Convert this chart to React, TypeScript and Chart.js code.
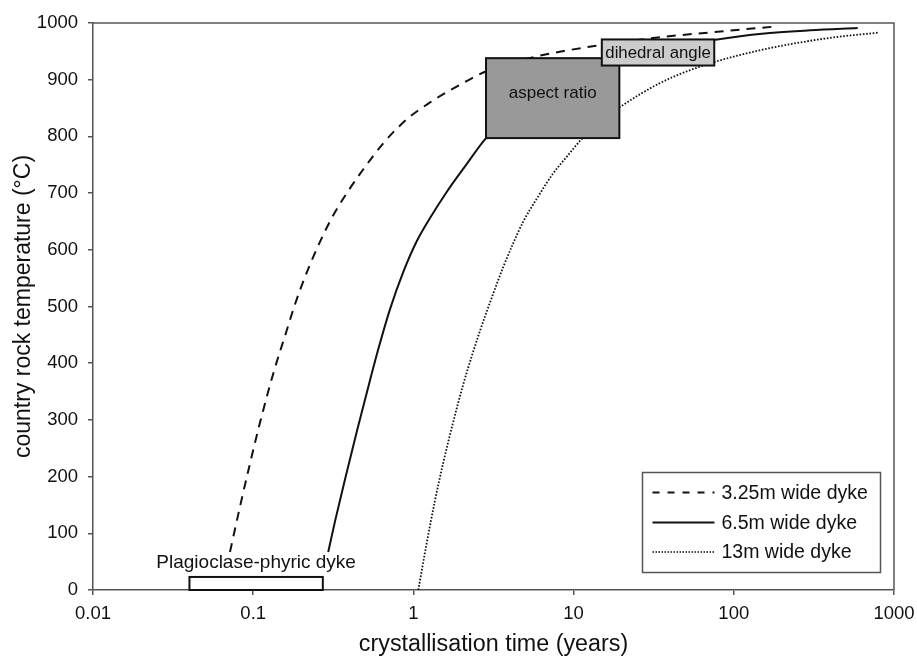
import React, { useEffect, useRef } from 'react';
import { Chart, registerables } from 'chart.js';

Chart.register(...registerables);

// ---------------- data ----------------
const xTickValues = [0.01, 0.1, 1, 10, 100, 1000];
const xTickLabels = ['0.01', '0.1', '1', '10', '100', '1000'];
const yTickValues = [0, 100, 200, 300, 400, 500, 600, 700, 800, 900, 1000];
const yTickLabels = ['0', '100', '200', '300', '400', '500', '600', '700', '800', '900', '1000'];

const seriesLabels = ['3.25m wide dyke', '6.5m wide dyke', '13m wide dyke'];

const dyke325Time = [0.0716, 0.0827, 0.0955, 0.11, 0.1335, 0.162, 0.1824, 0.216, 0.261, 0.316, 0.384, 0.487, 0.649, 0.908, 1.256, 1.95, 2.8, 5.1, 14.6, 38, 90, 185];
const dyke325Temp = [67, 147, 223, 294, 382, 458, 504, 560, 614, 661, 700, 742, 788, 830, 859, 891, 914, 937, 961, 976, 986, 994];

const dyke65Time = [0.294, 0.324, 0.374, 0.443, 0.536, 0.604, 0.714, 0.865, 1.049, 1.27, 1.614, 2.15, 2.84, 5, 10, 20, 40, 75, 150, 300, 593];
const dyke65Temp = [67, 121, 195, 279, 370, 425, 495, 561, 615, 656, 702, 751, 797, 860, 905, 935, 957, 970, 981, 987, 991];

const dyke13Time = [1.073, 1.211, 1.364, 1.537, 1.775, 2.049, 2.311, 2.604, 3.153, 3.641, 4.204, 4.853, 5.886, 7.468, 9.055, 11.12, 15, 19.3, 34.6, 61.5, 146, 380, 798];
const dyke13Temp = [0, 83, 158, 225, 297, 363, 412, 457, 523, 570, 612, 650, 690, 735, 764, 794, 828, 851, 894, 923, 952, 973, 983];

const boxLabels = ['Plagioclase-phyric dyke', 'aspect ratio', 'dihedral angle'];
const boxTimeMin = [0.04, 2.84, 15];
const boxTimeMax = [0.272, 19.3, 75.5];
const boxTempMin = [0, 797, 925];
const boxTempMax = [23, 938, 971];

// ---------------- styles ----------------
const FONT = "'Liberation Sans', Arial, Helvetica, sans-serif";
const AXIS_COLOR = '#555555';
const TEXT_COLOR = '#111111';
const lineDashes = [[9, 7], [], [1.6, 1.7]];
const lineWidths = [2, 2, 1.8];
const legendDashes = [[7, 8], [], [1.5, 1.5]];
const boxFills = ['#ffffff', '#999999', '#cccccc'];
const boxFontSizes = [19, 17, 16.8];

const toPoints = (xs: number[], ys: number[]) => xs.map((x, i) => ({ x, y: ys[i] }));

const frameAndBoxes = {
  id: 'frameAndBoxes',
  beforeDatasetsDraw(chart: any) {
    const { ctx, chartArea } = chart;
    ctx.save();
    ctx.strokeStyle = AXIS_COLOR;
    ctx.lineWidth = 1.5;
    ctx.beginPath();
    ctx.moveTo(chartArea.left, chartArea.top);
    ctx.lineTo(chartArea.right, chartArea.top);
    ctx.lineTo(chartArea.right, chartArea.bottom);
    ctx.stroke();
    ctx.restore();
  },
  afterDatasetsDraw(chart: any) {
    const { ctx } = chart;
    const xs = chart.scales.x;
    const ys = chart.scales.y;
    ctx.save();
    boxLabels.forEach((label, i) => {
      const l = xs.getPixelForValue(boxTimeMin[i]);
      const r = xs.getPixelForValue(boxTimeMax[i]);
      const t = ys.getPixelForValue(boxTempMax[i]);
      const b = ys.getPixelForValue(boxTempMin[i]);
      ctx.fillStyle = boxFills[i];
      ctx.fillRect(l, t, r - l, b - t);
      ctx.strokeStyle = '#111';
      ctx.lineWidth = 2;
      ctx.setLineDash([]);
      ctx.strokeRect(l, t, r - l, b - t);
      ctx.fillStyle = TEXT_COLOR;
      ctx.font = `${boxFontSizes[i]}px ${FONT}`;
      ctx.textAlign = 'center';
      ctx.textBaseline = 'middle';
      const cx = (l + r) / 2;
      if (i === 0) {
        ctx.fillText(label, cx, t - 14);
      } else if (i === 1) {
        ctx.fillText(label, cx, (t + b) / 2 - 5);
      } else {
        ctx.fillText(label, cx, (t + b) / 2 + 0.5);
      }
    });
    ctx.restore();
  },
  afterDraw(chart: any) {
    const { ctx, chartArea } = chart;
    const w = 238;
    const h = 100;
    const right = chartArea.right - 13.5;
    const bottom = chartArea.bottom - 17.5;
    const left = right - w;
    const top = bottom - h;
    ctx.save();
    ctx.fillStyle = '#ffffff';
    ctx.fillRect(left, top, w, h);
    ctx.strokeStyle = AXIS_COLOR;
    ctx.lineWidth = 1.5;
    ctx.strokeRect(left, top, w, h);
    const rows = [20, 50, 79.5];
    seriesLabels.forEach((label, i) => {
      const yy = top + rows[i];
      ctx.strokeStyle = '#111';
      ctx.lineWidth = i === 2 ? 1.6 : 2;
      ctx.setLineDash(legendDashes[i]);
      ctx.beginPath();
      ctx.moveTo(left + 10, yy);
      ctx.lineTo(left + 72, yy);
      ctx.stroke();
      ctx.setLineDash([]);
      ctx.fillStyle = TEXT_COLOR;
      ctx.font = `19.5px ${FONT}`;
      ctx.textAlign = 'left';
      ctx.textBaseline = 'middle';
      ctx.fillText(label, left + 79, yy + 1);
    });
    ctx.restore();
  },
};

export default function App() {
  const canvasRef = useRef<HTMLCanvasElement | null>(null);

  useEffect(() => {
    document.body.style.margin = '0';
    const canvas = canvasRef.current;
    if (!canvas) return;
    Chart.defaults.font.family = FONT;
    const series = [
      toPoints(dyke325Time, dyke325Temp),
      toPoints(dyke65Time, dyke65Temp),
      toPoints(dyke13Time, dyke13Temp),
    ];
    const chart = new Chart(canvas, {
      type: 'line',
      data: {
        datasets: series.map((data, i) => ({
          label: seriesLabels[i],
          data,
          borderColor: '#111',
          borderWidth: lineWidths[i],
          borderDash: lineDashes[i],
          pointRadius: 0,
          fill: false,
          cubicInterpolationMode: 'monotone' as const,
        })),
      },
      options: {
        responsive: false,
        animation: false,
        devicePixelRatio: 1,
        layout: { padding: { left: 0, top: 23, right: 23, bottom: 0 } },
        plugins: {
          legend: { display: false },
          tooltip: { enabled: false },
        },
        scales: {
          x: {
            type: 'logarithmic',
            min: 0.01,
            max: 1000,
            afterBuildTicks: (s: any) => {
              s.ticks = xTickValues.map((v) => ({ value: v }));
            },
            afterFit: (s: any) => {
              s.height = 67;
              s.paddingLeft = 0;
              s.paddingRight = 0;
            },
            ticks: {
              autoSkip: false,
              maxRotation: 0,
              padding: 8,
              color: TEXT_COLOR,
              font: { size: 18.5 },
              callback: (_v: any, i: number) => xTickLabels[i],
            },
            grid: {
              display: true,
              drawOnChartArea: false,
              drawTicks: true,
              tickLength: 5,
              color: AXIS_COLOR,
              lineWidth: 1.5,
            },
            border: { display: true, color: AXIS_COLOR, width: 1.5 },
            title: {
              display: true,
              text: 'crystallisation time (years)',
              color: TEXT_COLOR,
              font: { size: 23.3, lineHeight: 1 },
              padding: { top: 0, bottom: 0.5 },
            },
          },
          y: {
            type: 'linear',
            min: 0,
            max: 1000,
            afterBuildTicks: (s: any) => {
              s.ticks = yTickValues.map((v) => ({ value: v }));
            },
            afterFit: (s: any) => {
              s.width = 93;
            },
            ticks: {
              autoSkip: false,
              padding: 10,
              color: TEXT_COLOR,
              font: { size: 18.5 },
              callback: (_v: any, i: number) => yTickLabels[i],
            },
            grid: {
              display: true,
              drawOnChartArea: false,
              drawTicks: true,
              tickLength: 5,
              color: AXIS_COLOR,
              lineWidth: 1.5,
            },
            border: { display: true, color: AXIS_COLOR, width: 1.5 },
            title: {
              display: true,
              text: 'country rock temperature (°C)',
              color: TEXT_COLOR,
              font: { size: 23 },
              padding: { top: 10, bottom: 0 },
            },
          },
        },
      },
      plugins: [frameAndBoxes],
    } as any);
    return () => chart.destroy();
  }, []);

  return (
    <div style={{ width: 917, height: 657 }}>
      <canvas ref={canvasRef} width={917} height={657} style={{ display: 'block' }} />
    </div>
  );
}
